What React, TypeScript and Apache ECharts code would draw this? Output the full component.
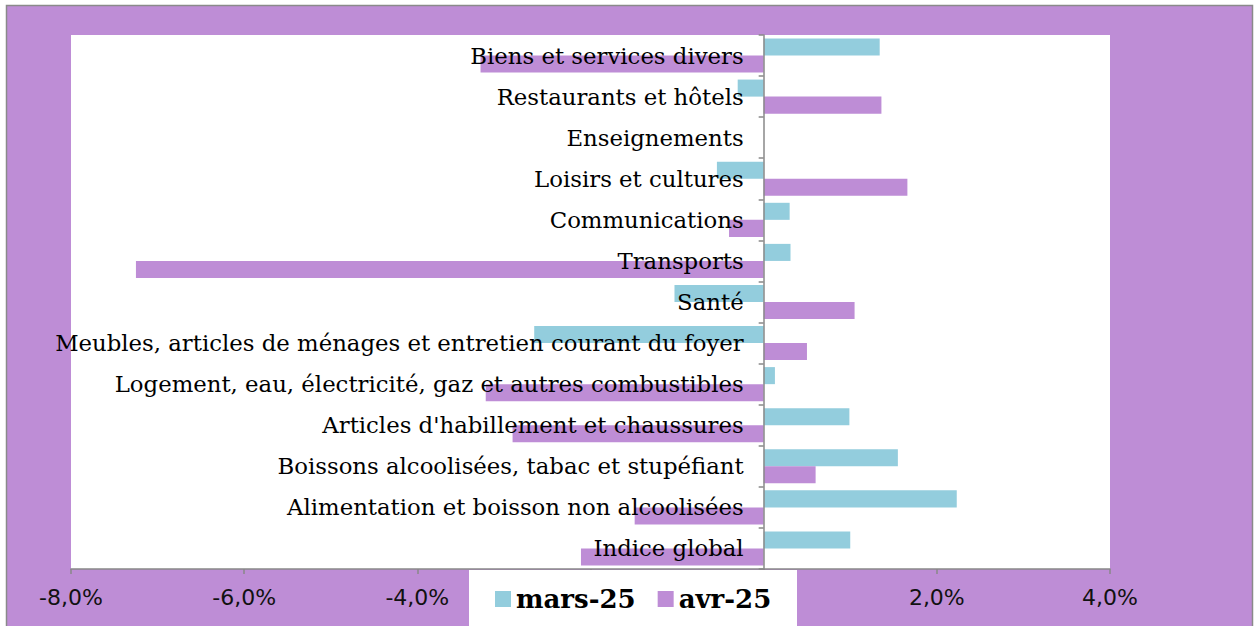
import React, { useEffect, useRef } from "react";
import * as echarts from "echarts";

const categories = [
  "Indice global",
  "Alimentation et boisson non alcoolisées",
  "Boissons alcoolisées, tabac et stupéfiant",
  "Articles d'habillement et chaussures",
  "Logement, eau, électricité, gaz et autres combustibles",
  "Meubles, articles de ménages et entretien courant du foyer",
  "Santé",
  "Transports",
  "Communications",
  "Loisirs et cultures",
  "Enseignements",
  "Restaurants et hôtels",
  "Biens et services divers",
];

const mars25 = [1.0, 2.23, 1.55, 0.99, 0.13, -2.65, -1.03, 0.31, 0.3, -0.54, 0, -0.3, 1.34];
const avr25 = [-2.11, -1.49, 0.6, -2.9, -3.21, 0.5, 1.05, -7.25, -0.4, 1.66, 0, 1.36, -3.27];

const X_MIN = -8;
const X_MAX = 4;
const X_STEP = 2;
// tick labels hidden under the legend box in the reference
const hiddenTicks = [-2, 0];

const seriesNames = ["mars-25", "avr-25"];
const BLUE = "#93CDDD";
const PURPLE = "#BE8DD6";

const GRID_LEFT = 71;
const GRID_RIGHT = 145;
const W = 1255;

export default function App() {
  const ref = useRef<HTMLDivElement>(null);
  useEffect(() => {
    document.body.style.margin = "0";
    const chart = echarts.init(ref.current!, undefined, { renderer: "svg" });
    const gridW = W - GRID_LEFT - GRID_RIGHT;
    const zeroOffset = -((0 - X_MIN) / (X_MAX - X_MIN)) * gridW;
    chart.setOption({
      animation: false,
      graphic: [
        {
          type: "rect",
          z: -10,
          silent: true,
          shape: { x: 6.5, y: 5.5, width: 1246, height: 640 },
          style: { fill: PURPLE, stroke: "#8a8a8a", lineWidth: 1.5 },
        },
        {
          type: "rect",
          z: 50,
          silent: true,
          shape: { x: 469, y: 570, width: 328, height: 60 },
          style: { fill: "#ffffff" },
        },
      ],
      legend: {
        z: 60,
        left: 490,
        top: 581,
        icon: "rect",
        itemWidth: 16,
        itemHeight: 16,
        itemGap: 22,
        data: seriesNames,
        textStyle: {
          fontFamily: "DejaVu Serif",
          fontWeight: "bold",
          fontSize: 26,
          color: "#000",
        },
      },
      grid: {
        left: GRID_LEFT,
        right: GRID_RIGHT,
        top: 35,
        bottom: 57,
        show: true,
        backgroundColor: "#ffffff",
        borderWidth: 0,
        containLabel: false,
        outerBoundsMode: "none",
      },
      xAxis: {
        type: "value",
        min: X_MIN,
        max: X_MAX,
        interval: X_STEP,
        splitLine: { show: false },
        axisLine: { show: true, lineStyle: { color: "#888888", width: 1.5 } },
        axisTick: { show: true, length: 5, lineStyle: { color: "#888888", width: 1.5 } },
        axisLabel: {
          margin: 17,
          fontFamily: "DejaVu Sans",
          fontSize: 22,
          color: "#111",
          formatter: (v: number) =>
            hiddenTicks.indexOf(v) >= 0 ? "" : v.toFixed(1).replace(".", ",") + "%",
        },
      },
      yAxis: {
        type: "category",
        data: categories,
        z: 5,
        position: "left",
        offset: zeroOffset,
        axisLine: { show: true, onZero: false, lineStyle: { color: "#888888", width: 1.5 } },
        axisTick: { show: true, length: 5, lineStyle: { color: "#888888", width: 1.5 } },
        axisLabel: {
          margin: 20,
          fontFamily: "DejaVu Serif",
          fontSize: 22.8,
          color: "#000",
        },
      },
      series: [
        {
          name: seriesNames[0],
          type: "bar",
          data: mars25,
          itemStyle: { color: BLUE },
          barGap: "0%",
          barCategoryGap: "17%",
        },
        {
          name: seriesNames[1],
          type: "bar",
          data: avr25,
          itemStyle: { color: PURPLE },
          barGap: "0%",
          barCategoryGap: "17%",
        },
      ],
    });
    return () => chart.dispose();
  }, []);
  return <div ref={ref} style={{ width: 1255, height: 626 }} />;
}
